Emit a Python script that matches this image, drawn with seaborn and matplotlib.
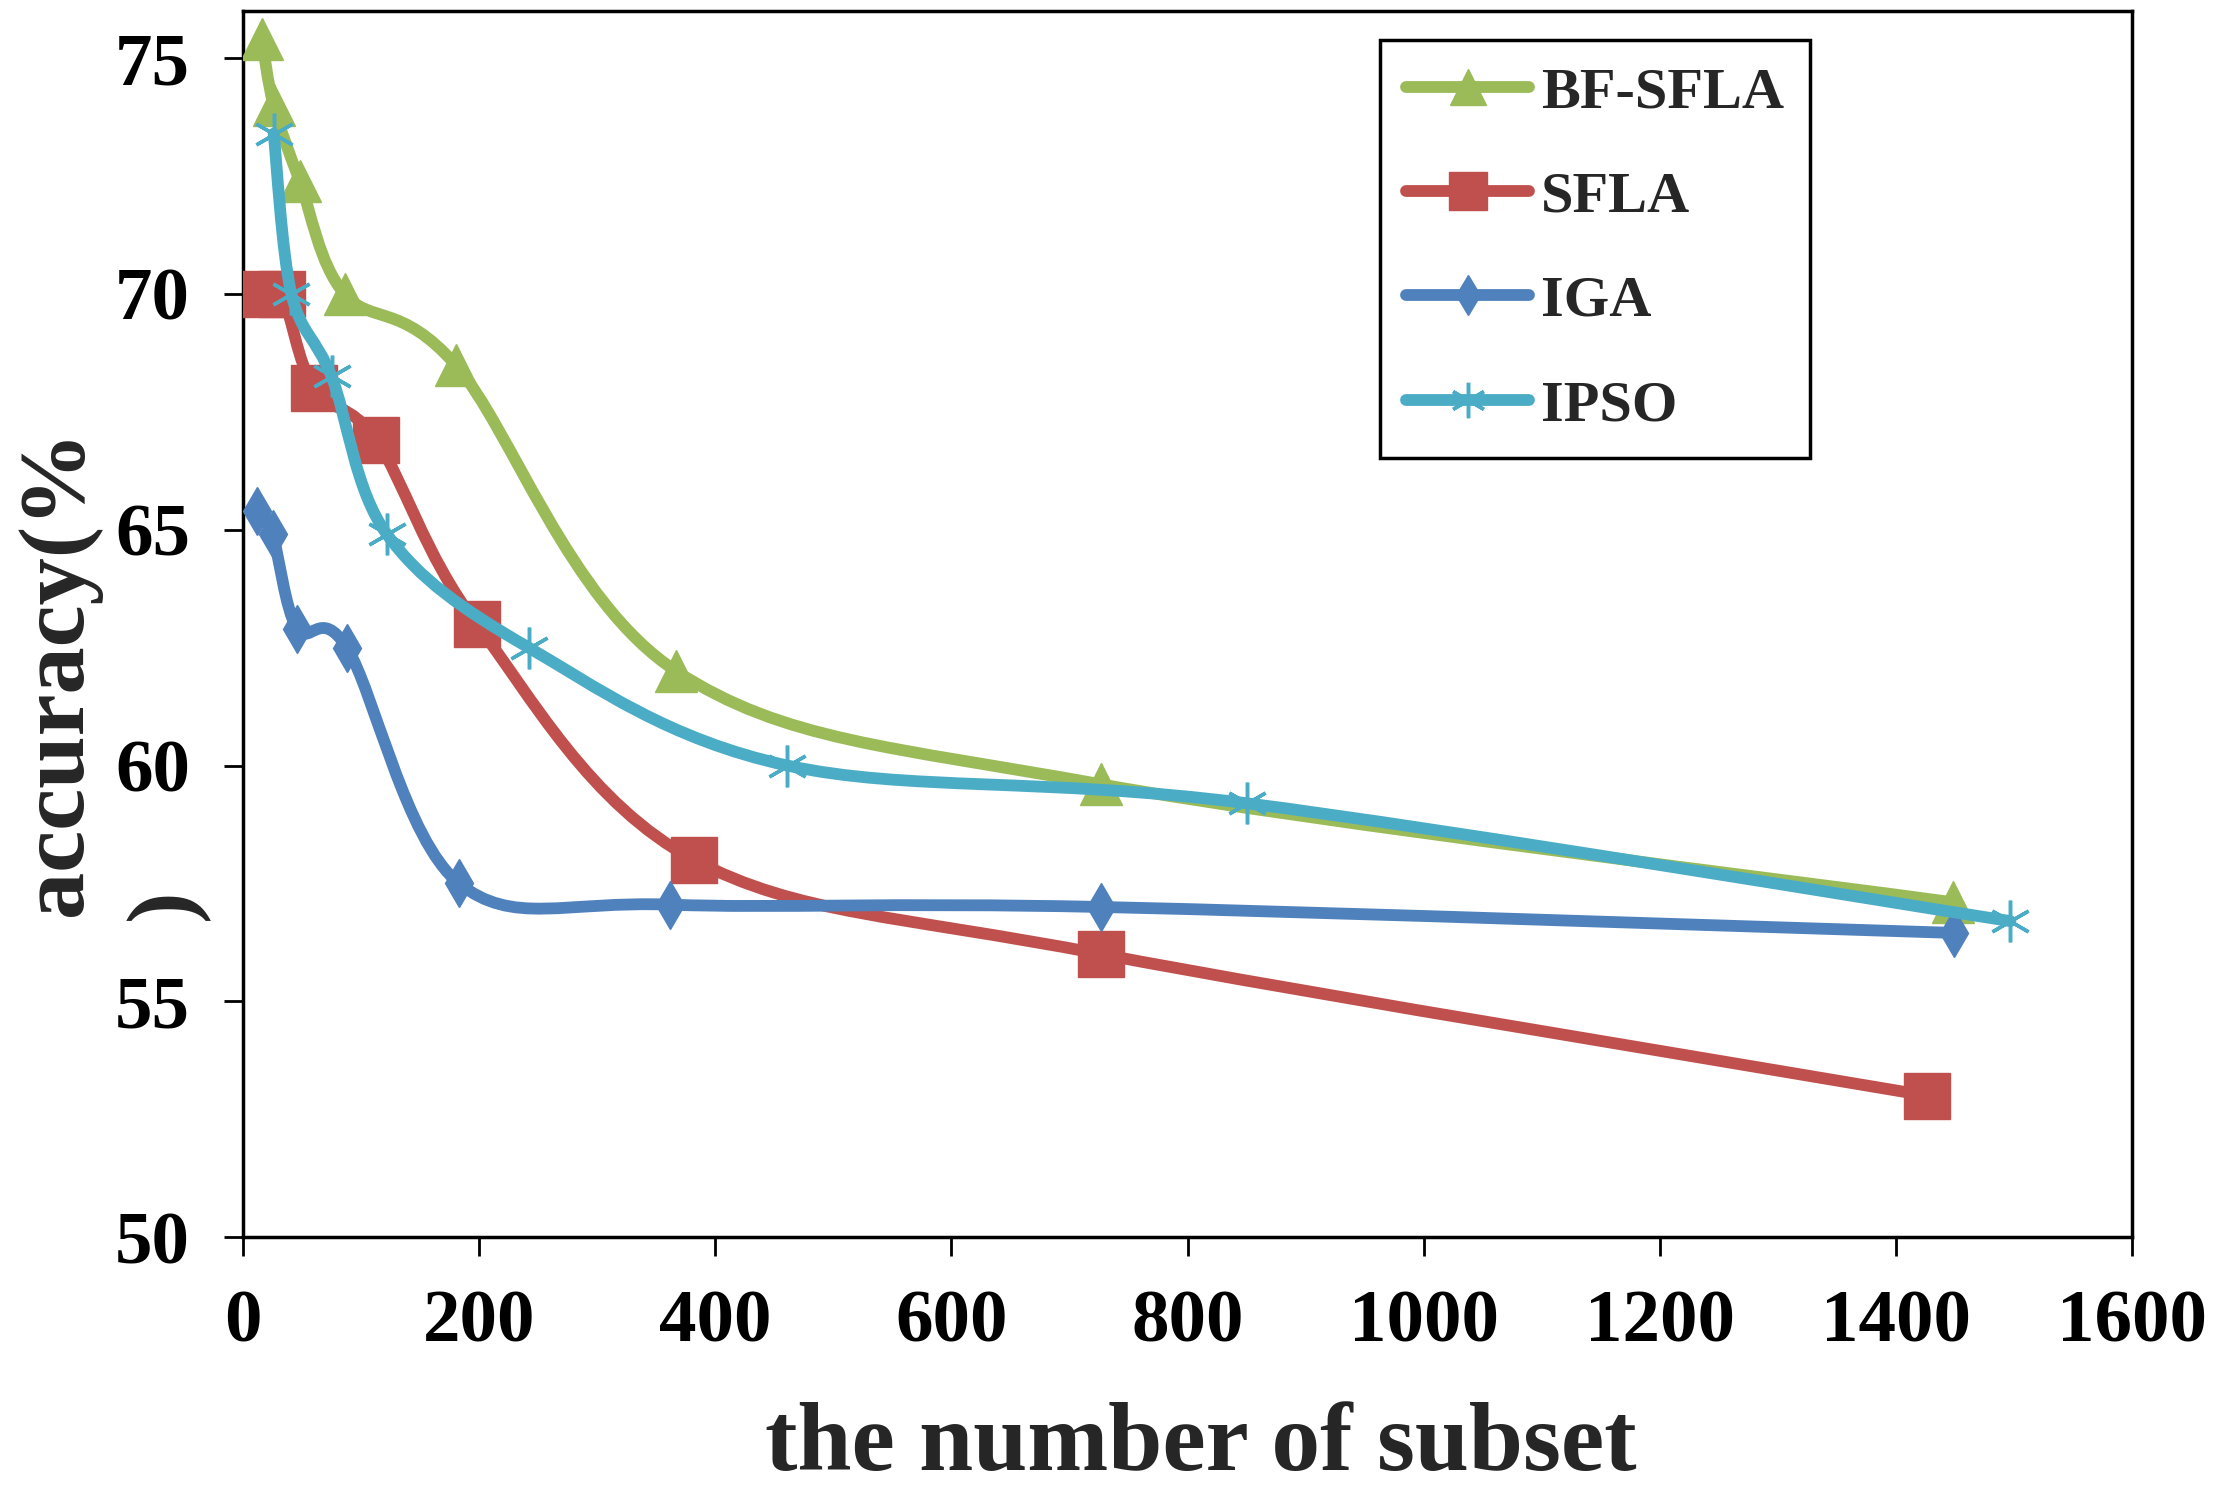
import numpy as np
import pandas as pd
import seaborn as sns
import matplotlib.pyplot as plt
from matplotlib.path import Path
from matplotlib.patches import PathPatch
from matplotlib.lines import Line2D

# values
methods = ["BF-SFLA", "SFLA", "IGA", "IPSO"]

bf_x = [16, 26, 48, 86, 180, 367, 727, 1448]
bf_y = [75.4, 74.0, 72.4, 70.0, 68.5, 62.0, 59.6, 57.1]

sfla_x = [18, 33, 60, 113, 198, 382, 727, 1426]
sfla_y = [70.0, 70.0, 68.0, 66.9, 63.0, 58.0, 56.0, 53.0]

iga_x = [12, 25, 46, 88, 183, 362, 727, 1449]
iga_y = [65.4, 64.9, 62.9, 62.5, 57.5, 57.05, 57.0, 56.45]

ipso_x = [26, 41, 75, 122, 242, 461, 850, 1497]
ipso_y = [73.4, 70.0, 68.25, 64.9, 62.5, 60.0, 59.2, 56.7]

x_ticks = [0, 200, 400, 600, 800, 1000, 1200, 1400, 1600]
y_ticks = [50, 55, 60, 65, 70, 75]

colors = ["#9BBB59", "#C0504D", "#4F81BD", "#4BACC6"]
markers = ["^", "s", "d", (6, 2, 0)]
msizes = [30, 33, 24, 30]

series = [(bf_x, bf_y), (sfla_x, sfla_y), (iga_x, iga_y), (ipso_x, ipso_y)]
df = pd.concat([pd.DataFrame({"method": m, "subset": xs, "accuracy": ys})
                for m, (xs, ys) in zip(methods, series)], ignore_index=True)

sns.set_style("ticks")
plt.rcParams["font.family"] = ["Liberation Serif", "DejaVu Serif"]
plt.rcParams["font.weight"] = "bold"


def smooth_path(xs, ys):
    # smoothed connector like Excel's "smoothed line" (bezier through the points)
    pts = np.column_stack([xs, ys]).astype(float)
    n = len(pts)
    verts = [pts[0]]
    codes = [Path.MOVETO]
    for i in range(n - 1):
        p0 = pts[max(i - 1, 0)]
        p1 = pts[i]
        p2 = pts[i + 1]
        p3 = pts[min(i + 2, n - 1)]
        verts += [p1 + (p2 - p0) / 6, p2 - (p3 - p1) / 6, p2]
        codes += [Path.CURVE4] * 3
    return Path(verts, codes)


fig = plt.figure(figsize=(22.17, 14.91), dpi=100)
ax = fig.add_axes([0.1096, 0.1703, 0.8521, 0.8223])

for k, m in enumerate(methods):
    sub = df[df["method"] == m]
    ax.add_patch(PathPatch(smooth_path(sub["subset"], sub["accuracy"]), fill=False,
                           edgecolor=colors[k], lw=8.5, capstyle="round",
                           joinstyle="round", zorder=2 + 2 * k))
    mew = 2.5 if k == 3 else 1
    sns.lineplot(data=sub, x="subset", y="accuracy", ax=ax, color=colors[k],
                 marker=markers[k], markersize=msizes[k], markeredgecolor=colors[k],
                 markeredgewidth=mew, linestyle="", legend=False, zorder=3 + 2 * k)

ax.set_xlim(0, 1600)
ax.set_ylim(50, 76)
ax.set_xticks(x_ticks)
ax.set_yticks(y_ticks)
ax.tick_params(direction="out", length=14, width=2, labelsize=54, pad=24, colors="black")

for s in ax.spines.values():
    s.set_visible(True)
    s.set_color("black")
    s.set_linewidth(2.5)

ax.set_xlabel("the number of subset", fontsize=70, fontweight="bold")
ax.xaxis.set_label_coords(0.507, -0.19)
ax.xaxis.label.set_va("baseline")

# y label wraps in the original: "accuracy(%" then ")" on a second line
ax.set_ylabel("accuracy(%", fontsize=68, fontweight="bold")
ax.yaxis.set_label_coords(-0.0974, 0.461)
ax.yaxis.label.set_va("center")
ax.text(-0.0402, 0.259, ")", transform=ax.transAxes, rotation=90,
        rotation_mode="anchor", ha="left", va="center", fontsize=68,
        fontweight="bold")

handles = [Line2D([], [], color=c, lw=8.5, marker=mk, markersize=ms * 0.85,
                  markeredgecolor=c, markeredgewidth=(2.5 if i == 3 else 1))
           for i, (c, mk, ms) in enumerate(zip(colors, markers, msizes))]
leg = ax.legend(handles, methods, loc="upper left", bbox_to_anchor=(0.602, 0.976),
                borderaxespad=0, fancybox=False, edgecolor="black", framealpha=1,
                prop={"size": 42, "weight": "bold"}, handlelength=2.1,
                handletextpad=0.2, labelspacing=0.88, borderpad=0.45)
leg.get_frame().set_linewidth(2.5)

fig.savefig("out.png", dpi=100)
